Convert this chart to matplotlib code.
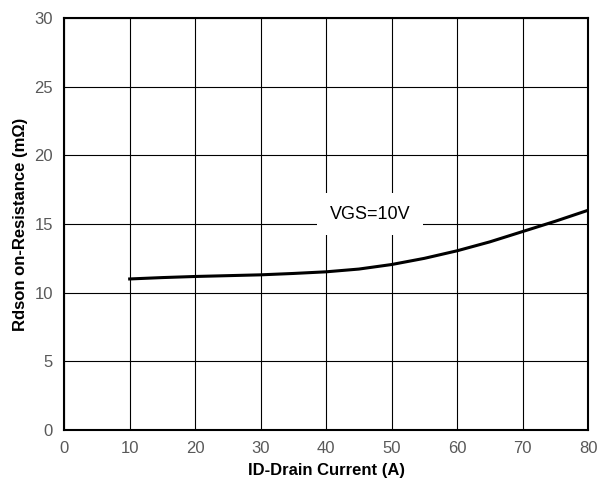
import numpy as np
import matplotlib.pyplot as plt

plt.rcParams['font.family'] = ['Liberation Sans', 'DejaVu Sans']

# Rdson vs drain current, VGS=10V
id_current = [10, 15, 20, 25, 30, 35, 40, 45, 50, 55, 60, 65, 70, 75, 80]
rdson = [11.0, 11.1, 11.18, 11.24, 11.3, 11.4, 11.52, 11.72, 12.05, 12.5, 13.05, 13.7, 14.45, 15.2, 16.0]

fig = plt.figure(figsize=(6, 4.87), dpi=100)
ax = fig.add_axes([0.107, 0.117, 0.873, 0.846])

ax.plot(id_current, rdson, color='black', linewidth=2.2, zorder=3)

ax.set_xlim(0, 80)
ax.set_ylim(0, 30)
ax.set_xticks(np.arange(0, 81, 10))
ax.set_yticks(np.arange(0, 31, 5))
ax.grid(color='black', linewidth=0.8)
ax.tick_params(length=0, labelsize=12, labelcolor='#595959', pad=8)
for s in ax.spines.values():
    s.set_linewidth(1.5)

ax.set_xlabel("ID-Drain Current (A)", fontsize=12, fontweight='bold', labelpad=5)
ax.set_ylabel("Rdson on-Resistance (m\u03a9)", fontsize=12, fontweight='bold', labelpad=5)

ax.text(46.7, 15.7, "VGS=10V", fontsize=13, ha='center', va='center', zorder=4,
        bbox=dict(facecolor='white', edgecolor='none', pad=9))

fig.savefig("out.png", dpi=100)
